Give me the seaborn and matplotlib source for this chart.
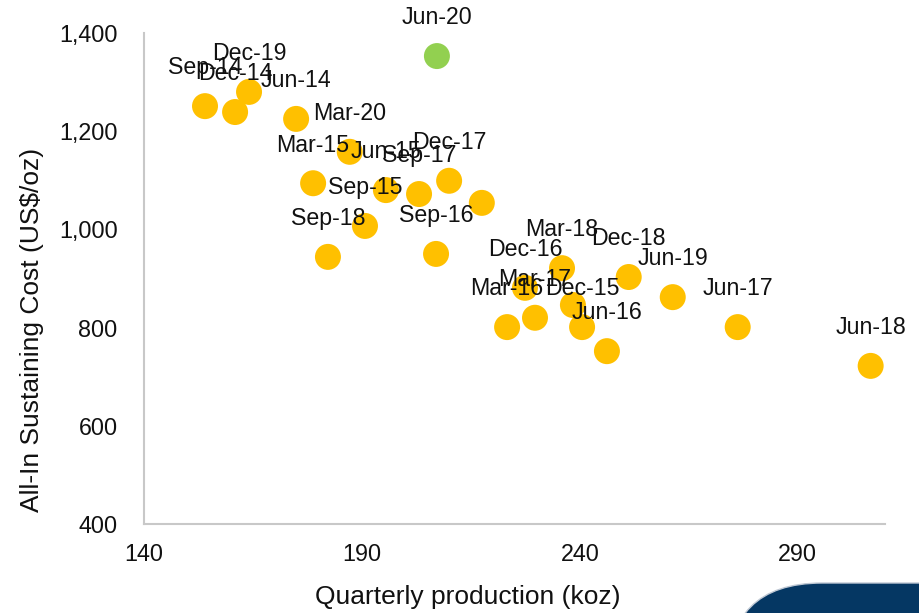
import matplotlib
matplotlib.use('Agg')
import matplotlib.pyplot as plt
from matplotlib.patches import FancyBboxPatch
import seaborn as sns
import pandas as pd

# Quarterly production (koz) vs AISC (US$/oz)
quarters = ["Jun-14", "Sep-14", "Dec-14", "Mar-15", "Jun-15", "Sep-15", "Dec-15",
            "Mar-16", "Jun-16", "Sep-16", "Dec-16", "Mar-17", "Jun-17", "Sep-17",
            "Dec-17", "Mar-18", "Jun-18", "Sep-18", "Dec-18", "Mar-19", "Jun-19",
            "Sep-19", "Dec-19", "Mar-20", "Jun-20"]
production = [174.9, 154.0, 160.9, 178.8, 195.5, 190.7, 240.5,
              223.3, 246.2, 207.0, 227.4, 229.7, 276.2, 203.1,
              210.0, 235.9, 306.7, 182.2, 251.2, 217.5, 261.3,
              238.4, 164.1, 187.2, 207.2]
aisc = [1225, 1251, 1239, 1094, 1080, 1007, 801,
        801, 752, 950, 881, 820, 801, 1072,
        1099, 921, 722, 944, 903, 1054, 862,
        846, 1280, 1158, 1353]
# labels not shown on the chart for two quarters
hidden_labels = ["Mar-19", "Sep-19"]
latest = "Jun-20"

df = pd.DataFrame({"quarter": quarters, "production": production, "aisc": aisc})
df["group"] = ["latest" if q == latest else "history" for q in df["quarter"]]

sns.set_style("white")
plt.rcParams['font.family'] = ['Liberation Sans', 'DejaVu Sans']

fig = plt.figure(figsize=(9.2, 6.13), dpi=100)
ax = fig.add_axes([0.1565, 0.1452, 0.8055, 0.801])

sns.scatterplot(data=df, x="production", y="aisc", hue="group",
                palette={"history": "#FFC000", "latest": "#92D050"},
                s=350, linewidth=0, legend=False, ax=ax, zorder=3)

for _, row in df.iterrows():
    if row["quarter"] in hidden_labels:
        continue
    ax.annotate(row["quarter"], (row["production"], row["aisc"]),
                xytext=(0, 27.5), textcoords="offset points",
                ha="center", va="center", fontsize=16.7, color="#111111", zorder=5)

ax.set_xlim(140, 310)
ax.set_ylim(400, 1400)
ax.set_xticks([140, 190, 240, 290])
ax.set_yticks([400, 600, 800, 1000, 1200, 1400])
ax.set_yticklabels([f"{v:,}" for v in [400, 600, 800, 1000, 1200, 1400]])
ax.tick_params(axis="both", length=0, labelsize=16.8, colors="#111111")
ax.tick_params(axis="x", pad=14)
ax.tick_params(axis="y", pad=19)

ax.set_xlabel("Quarterly production (koz)", fontsize=19, color="#111111")
ax.set_ylabel("All-In Sustaining Cost (US$/oz)", fontsize=19, color="#111111")
ax.xaxis.set_label_coords(0.437, -0.149)
ax.xaxis.label.set_va("center")
ax.yaxis.set_label_coords(-0.151, 0.395)
ax.yaxis.label.set_va("center")
ax.yaxis.label.set_ha("center")

for side in ["top", "right"]:
    ax.spines[side].set_visible(False)
for side in ["left", "bottom"]:
    ax.spines[side].set_color("#C8C8C8")
    ax.spines[side].set_linewidth(1.5)
ax.grid(False)

# corner decoration from the slide (rounded box, mostly off the canvas)
fig.add_artist(FancyBboxPatch((7.27, -2.0), 5.0, 2.30,
                              boxstyle="round,pad=0,rounding_size=0.95",
                              transform=fig.dpi_scale_trans,
                              facecolor="#053763", edgecolor="#BFC8D4",
                              linewidth=1, clip_on=False))

plt.savefig("out.png", dpi=100)
plt.close()
